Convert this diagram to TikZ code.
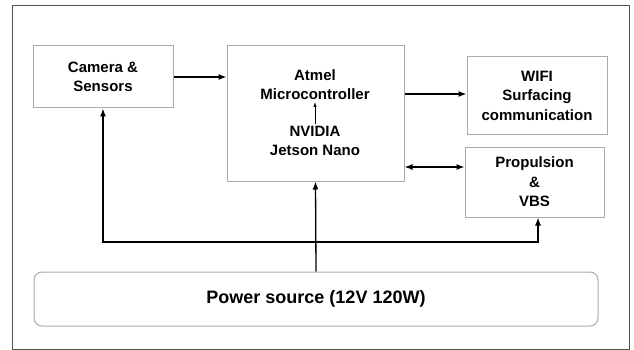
\documentclass[tikz,border=0pt]{standalone}
\usepackage{fontspec}
\setmainfont{Liberation Sans}
\usetikzlibrary{arrows.meta,calc}

\definecolor{boxgray}{RGB}{170,170,170}
\definecolor{framegray}{RGB}{80,80,80}

\tikzset{
  block/.style={draw=boxgray,line width=1pt,align=center,
    font=\bfseries\fontsize{15}{19.5}\selectfont},
  inner/.style={align=center,inner sep=2pt,
    font=\bfseries\fontsize{15}{19.5}\selectfont},
  link/.style={line width=1.3pt,-{Latex[length=8pt,width=6pt]}},
  smalllink/.style={line width=0.8pt,-{Latex[length=5pt,width=3.5pt]}}
}

\begin{document}
\begin{tikzpicture}[x=1pt,y=-1pt]
\useasboundingbox (0,0) rectangle (634,350);
\draw[framegray,line width=1pt] (12,6) rectangle (629,349);

\node[block,minimum width=140pt,minimum height=62pt] (cam) at (103,77) {Camera \&\\Sensors};
\node[block,minimum width=177pt,minimum height=135pt] (mcu) at (315.5,113.5) {};
\node[inner] (atmel) at (315,84.5) {Atmel\\Microcontroller};
\node[inner] (jetson) at (315,141) {NVIDIA\\Jetson Nano};
\node[block,minimum width=140pt,minimum height=77pt] (wifi) at (537,95.5) {WIFI\\Surfacing\\communication};
\node[block,minimum width=139pt,minimum height=70pt] (prop) at (534.5,182) {Propulsion\\\&\\VBS};
\node[block,rounded corners=8pt,minimum width=564pt,minimum height=54pt,
  font=\bfseries\fontsize{18}{22}\selectfont] (power) at (316,299) {Power source (12V 120W)};

\coordinate (pp) at ([yshift=15pt]prop.west);
\coordinate (junc) at (316,242);

\draw[smalllink] (jetson) -- (atmel);
\draw[link] (cam.east) -- (cam.east -| mcu.west);
\draw[link] (mcu.east |- 0,94) -- (wifi.west |- 0,94);
\draw[line width=1.3pt,{Latex[length=8pt,width=6pt]}-{Latex[length=8pt,width=6pt]}] (mcu.east |- pp) -- (pp);
\draw[link] (power.north) -- (mcu.south);
\draw[link] (junc) -| (cam.south);
\draw[link] (junc) -| ([xshift=3.5pt]prop.south);
\end{tikzpicture}
\end{document}
